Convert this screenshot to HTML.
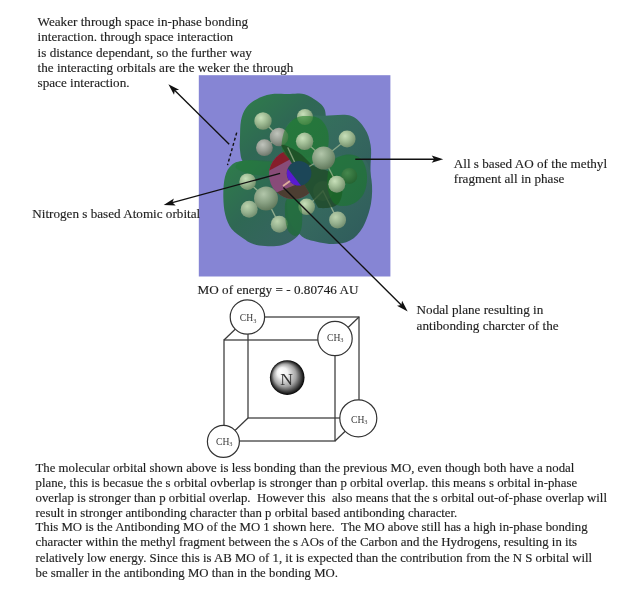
<!DOCTYPE html>
<html><head><meta charset="utf-8">
<style>
html,body{margin:0;padding:0;background:#fff;width:619px;height:599px;overflow:hidden}
svg{display:block}
.t{font-family:"Liberation Serif",serif;fill:#1e1e1e;stroke:#1e1e1e;stroke-width:0.15px}
#txt{filter:blur(0.3px)}
.a{font-size:13.15px}
.b{font-size:12.8px}
</style></head>
<body>
<svg width="619" height="599" viewBox="0 0 619 599">
<defs>
  <radialGradient id="hg" cx="0.38" cy="0.32" r="0.75">
    <stop offset="0" stop-color="#c8e0ba"/>
    <stop offset="0.45" stop-color="#a0bc94"/>
    <stop offset="1" stop-color="#6c8866"/>
  </radialGradient>
  <radialGradient id="hm" cx="0.38" cy="0.32" r="0.75">
    <stop offset="0" stop-color="#bcd4ae"/>
    <stop offset="0.5" stop-color="#97b290"/>
    <stop offset="1" stop-color="#6c886a"/>
  </radialGradient>
  <radialGradient id="hdg" cx="0.38" cy="0.32" r="0.75">
    <stop offset="0" stop-color="#4c8c50"/>
    <stop offset="1" stop-color="#235e2c"/>
  </radialGradient>
  <radialGradient id="cg" cx="0.4" cy="0.32" r="0.75">
    <stop offset="0" stop-color="#b2c6aa"/>
    <stop offset="0.5" stop-color="#88a082"/>
    <stop offset="1" stop-color="#5a7256"/>
  </radialGradient>
  <radialGradient id="cgg" cx="0.4" cy="0.32" r="0.75">
    <stop offset="0" stop-color="#c0c4bc"/>
    <stop offset="0.5" stop-color="#989e94"/>
    <stop offset="1" stop-color="#667064"/>
  </radialGradient>
  <linearGradient id="bl" x1="0" y1="0" x2="1" y2="1">
    <stop offset="0" stop-color="#2f7e4a"/>
    <stop offset="0.45" stop-color="#2f6854"/>
    <stop offset="1" stop-color="#396264"/>
  </linearGradient>
  <linearGradient id="bl2" x1="0" y1="0" x2="1" y2="1">
    <stop offset="0" stop-color="#34765a"/>
    <stop offset="0.5" stop-color="#35685e"/>
    <stop offset="1" stop-color="#2f5a5c"/>
  </linearGradient>
  <linearGradient id="redg" x1="0.2" y1="0" x2="0.6" y2="1">
    <stop offset="0" stop-color="#9a1a28"/>
    <stop offset="0.36" stop-color="#9a1a28"/>
    <stop offset="0.37" stop-color="#a84a80"/>
    <stop offset="0.78" stop-color="#9a4a80"/>
    <stop offset="0.79" stop-color="#4e3a2e"/>
    <stop offset="1" stop-color="#4e3a2e"/>
  </linearGradient>
  <clipPath id="rightdiag"><polygon points="227.9,56 400,56 400,291 367.7,291"/></clipPath>
  <clipPath id="leftdiagN"><polygon points="200,56 383,291 199,291 199,56"/></clipPath>
  <clipPath id="disc"><circle cx="293.5" cy="174.5" r="24.5"/></clipPath>
  <clipPath id="leftdiag"><polygon points="227.9,56 367.7,291 199,291 199,56"/></clipPath>
</defs>
<rect x="198.8" y="75.2" width="191.6" height="201.3" fill="#8685d4"/>
<path d="M240.0,150.0 C239.5,146.0 239.8,142.9 240.0,138.0 C240.2,133.1 240.0,125.5 241.0,120.5 C242.0,115.5 243.4,111.5 246.0,108.0 C248.6,104.5 252.5,101.5 256.7,99.2 C260.8,96.9 265.3,95.1 270.9,94.2 C276.4,93.3 284.4,94.0 290.0,94.0 C295.6,94.0 300.1,93.0 304.6,94.2 C309.1,95.4 313.8,98.7 317.0,101.0 C320.2,103.3 322.5,105.2 324.0,108.0 C325.5,110.8 325.6,113.5 326.0,118.0 C326.4,122.5 326.5,128.8 326.5,135.0 C326.5,141.2 327.9,149.5 326.0,155.0 C324.1,160.5 321.0,165.2 315.0,168.0 C309.0,170.8 300.0,171.7 290.0,172.0 C280.0,172.3 262.8,171.7 255.0,170.0 C247.2,168.3 245.5,165.3 243.0,162.0 C240.5,158.7 240.5,154.0 240.0,150.0 Z" fill="url(#bl)"/>
<path d="M284.0,140.0 C284.8,131.2 285.7,126.0 290.0,122.0 C294.3,118.0 304.2,117.0 310.0,116.0 C315.8,115.0 318.2,115.8 325.0,115.8 C331.8,115.8 344.2,113.7 350.8,115.8 C357.4,117.9 361.5,123.8 364.8,128.7 C368.1,133.6 369.6,139.2 370.6,145.0 C371.6,150.8 371.0,156.3 370.6,163.8 C370.2,171.3 371.4,183.1 368.0,190.0 C364.6,196.9 361.3,202.5 350.0,205.0 C338.7,207.5 310.8,210.0 300.0,205.0 C289.2,200.0 287.7,185.8 285.0,175.0 C282.3,164.2 283.2,148.8 284.0,140.0 Z" fill="url(#bl2)"/>
<path d="M225.0,176.7 C226.4,171.4 228.6,167.7 231.7,165.0 C234.8,162.3 237.8,161.4 243.4,160.8 C249.0,160.2 258.1,161.2 265.0,161.7 C271.9,162.2 279.2,160.9 285.0,164.0 C290.8,167.1 297.0,172.3 300.0,180.0 C303.0,187.7 302.7,201.9 303.0,210.0 C303.3,218.1 303.1,223.8 301.8,228.5 C300.5,233.2 298.3,235.7 295.0,238.5 C291.7,241.3 286.8,243.9 281.8,245.2 C276.8,246.4 270.0,246.3 265.0,246.0 C260.0,245.7 255.6,244.8 252.0,243.5 C248.4,242.2 246.8,240.9 243.4,238.5 C240.0,236.1 234.7,232.9 231.7,229.0 C228.7,225.1 226.7,220.4 225.3,215.0 C223.9,209.6 223.4,203.1 223.3,196.7 C223.2,190.3 223.6,182.0 225.0,176.7 Z" fill="url(#bl)"/>
<path d="M287.0,200.0 C287.0,191.3 286.2,177.2 290.0,170.0 C293.8,162.8 300.8,159.3 310.0,157.0 C319.2,154.7 335.8,155.5 345.0,156.0 C354.2,156.5 360.6,156.0 365.0,160.0 C369.4,164.0 370.5,172.8 371.5,180.0 C372.5,187.2 372.4,195.7 371.0,203.5 C369.6,211.3 366.5,220.7 363.0,226.9 C359.5,233.1 355.2,237.7 350.0,240.5 C344.8,243.3 338.9,244.1 332.0,244.0 C325.1,243.9 314.1,241.4 308.7,239.7 C303.3,238.0 302.5,236.8 299.4,233.9 C296.3,231.0 292.1,227.7 290.0,222.0 C287.9,216.3 287.0,208.7 287.0,200.0 Z" fill="url(#bl2)"/>
<g stroke="#b0c4a0" stroke-width="1.4" stroke-linecap="round" opacity="0.75">
  <line x1="263" y1="121" x2="279" y2="137"/>
  <line x1="264" y1="148" x2="279" y2="137"/>
  <line x1="248" y1="182" x2="266" y2="198"/>
  <line x1="249" y1="209" x2="266" y2="198"/>
  <line x1="279" y1="224" x2="266" y2="198"/>
  <line x1="323" y1="191" x2="307" y2="207"/>
  <line x1="323" y1="191" x2="337.6" y2="220"/>
</g>
<circle cx="279" cy="137" r="9.3" fill="url(#cgg)"/>
<circle cx="263" cy="121" r="8.7" fill="url(#hg)"/>
<circle cx="264.4" cy="147.7" r="8.4" fill="url(#cgg)"/>
<circle cx="305" cy="117" r="8" fill="url(#hg)"/>
<circle cx="266" cy="198.4" r="12" fill="url(#cg)"/>
<circle cx="247.6" cy="181.7" r="8.3" fill="url(#hg)"/>
<circle cx="249.2" cy="209.3" r="8.5" fill="url(#hm)"/>
<circle cx="279.3" cy="224.3" r="8.5" fill="url(#hm)"/>
<circle cx="337.6" cy="220.1" r="8.5" fill="url(#hm)"/>
<circle cx="323" cy="191" r="10" fill="#6a9a70" opacity="0.35"/>
<circle cx="306.7" cy="206.8" r="8.3" fill="url(#hg)"/>
<path d="M285.0,205.0 C285.5,199.7 287.8,197.2 290.0,196.0 C292.2,194.8 296.0,195.3 298.0,198.0 C300.0,200.7 301.5,206.7 302.0,212.0 C302.5,217.3 302.2,226.0 301.0,230.0 C299.8,234.0 297.3,236.3 295.0,236.0 C292.7,235.7 288.7,233.2 287.0,228.0 C285.3,222.8 284.5,210.3 285.0,205.0 Z" fill="#157026" opacity="0.5"/>
<path d="M236.0,168.0 C234.1,165.6 238.6,162.1 243.4,160.8 C248.2,159.6 258.1,160.1 265.0,160.5 C271.9,160.9 280.5,161.4 285.0,163.0 C289.5,164.6 292.8,168.0 292.0,170.0 C291.2,172.0 286.2,174.2 280.0,175.0 C273.8,175.8 262.3,176.2 255.0,175.0 C247.7,173.8 237.9,170.4 236.0,168.0 Z" fill="#1a7a2c" opacity="0.35"/>
<g clip-path="url(#leftdiag)" opacity="0.95"><g clip-path="url(#disc)">
<rect x="260" y="140" width="70" height="70" fill="#8e4a7c"/>
<polygon points="250,181 300,154 300,140 250,140" fill="#8c1a2a"/>
<polygon points="250,203 320,175 330,210 250,210" fill="#4e3c30"/>
</g></g>
<path d="M283.0,152.0 C280.3,146.7 282.2,137.5 284.0,132.0 C285.8,126.5 290.3,121.7 294.0,119.0 C297.7,116.3 301.7,116.0 306.0,116.0 C310.3,116.0 316.3,116.3 320.0,119.0 C323.7,121.7 326.8,126.8 328.0,132.0 C329.2,137.2 329.0,145.0 327.0,150.0 C325.0,155.0 320.5,159.7 316.0,162.0 C311.5,164.3 305.5,165.7 300.0,164.0 C294.5,162.3 285.7,157.3 283.0,152.0 Z" fill="#1a7c22" opacity="0.55"/>
<path d="M281.0,146.0 C281.3,142.0 292.5,148.7 298.0,152.0 C303.5,155.3 308.7,162.7 314.0,166.0 C319.3,169.3 325.3,168.7 330.0,172.0 C334.7,175.3 340.7,180.7 342.0,186.0 C343.3,191.3 341.7,200.3 338.0,204.0 C334.3,207.7 325.5,208.5 320.0,208.0 C314.5,207.5 309.0,206.3 305.0,201.0 C301.0,195.7 300.0,185.2 296.0,176.0 C292.0,166.8 280.7,150.0 281.0,146.0 Z" fill="#1c4420" opacity="0.7" clip-path="url(#rightdiag)"/>
<path d="M328.0,172.0 C328.8,167.0 329.6,162.9 333.0,160.0 C336.4,157.1 343.6,154.5 348.4,154.5 C353.2,154.5 358.9,156.2 362.0,160.0 C365.1,163.8 366.8,171.2 367.0,177.0 C367.2,182.8 365.8,190.3 363.0,195.0 C360.2,199.7 354.7,203.5 350.0,205.0 C345.3,206.5 338.7,206.5 335.0,204.0 C331.3,201.5 329.2,195.3 328.0,190.0 C326.8,184.7 327.2,177.0 328.0,172.0 Z" fill="#167a22" opacity="0.5"/>
<g stroke="#a8bc98" stroke-width="1.4" stroke-linecap="round" opacity="0.7">
  <line x1="288" y1="148" x2="296" y2="165"/>
  <line x1="304.6" y1="141" x2="323.5" y2="158"/>
  <line x1="347" y1="139" x2="323.5" y2="158"/>
  <line x1="323.5" y1="158" x2="337" y2="184"/>
  <line x1="300" y1="172" x2="323.5" y2="158"/>
</g>
<circle cx="304.6" cy="141.3" r="8.7" fill="url(#hg)"/>
<circle cx="347.1" cy="139.1" r="8.5" fill="url(#hg)"/>
<circle cx="323.6" cy="158" r="11.5" fill="url(#cg)"/>
<circle cx="349.3" cy="175.9" r="8" fill="url(#hdg)" opacity="0.85"/>
<circle cx="336.8" cy="184.2" r="8.5" fill="url(#hg)"/>
<circle cx="299.1" cy="173.3" r="12.3" fill="#1c4658"/>
<circle cx="299.1" cy="173.3" r="12.3" fill="#5a1ad0" clip-path="url(#leftdiagN)"/>
<line x1="283" y1="186" x2="290" y2="181" stroke="#e8b8a0" stroke-width="1.8" opacity="0.9"/>
<g stroke="#111" stroke-width="1.35" fill="none">
<line x1="229.2" y1="144.3" x2="174.1" y2="89.8"/>
<line x1="355.3" y1="159.2" x2="435.2" y2="159.2"/>
<line x1="280.1" y1="173.4" x2="171.4" y2="202.8"/>
<line x1="283.4" y1="187.6" x2="402.0" y2="305.8"/>
<path d="M236.7 132.6 L227.5 165.1" stroke-dasharray="3 2.4" stroke-width="1.4"/>
</g>
<g fill="#111">
<path d="M168.4 84.2 L179.1 89.7 L174.8 90.5 L174.0 94.8 Z"/>
<path d="M443.2 159.2 L431.7 162.8 L434.2 159.2 L431.7 155.6 Z"/>
<path d="M163.7 204.9 L173.9 198.4 L172.4 202.5 L175.7 205.4 Z"/>
<path d="M407.7 311.4 L397.0 305.8 L401.3 305.0 L402.1 300.7 Z"/>
</g>

<defs>
  <radialGradient id="ng" cx="0.5" cy="0.5" r="0.5" fx="0.3" fy="0.3">
    <stop offset="0" stop-color="#ffffff"/>
    <stop offset="0.3" stop-color="#f2f2f2"/>
    <stop offset="0.65" stop-color="#a4a4a4"/>
    <stop offset="0.9" stop-color="#303030"/>
    <stop offset="1" stop-color="#000"/>
  </radialGradient>
</defs>
<g stroke="#3a3a3a" stroke-width="1.25" fill="none">
  <rect x="248" y="317" width="111" height="101"/>
  <rect x="224" y="340" width="111" height="101"/>
  <line x1="224" y1="340" x2="248" y2="317"/>
  <line x1="335" y1="340" x2="359" y2="317"/>
  <line x1="335" y1="441" x2="359" y2="418"/>
  <line x1="224" y1="441" x2="248" y2="418"/>
</g>
<g stroke="#333" stroke-width="1.2" fill="#fff">
  <circle cx="247.4" cy="317" r="17.2"/>
  <circle cx="335" cy="338.5" r="17.2"/>
  <circle cx="358.3" cy="418.3" r="18.5"/>
  <circle cx="223.4" cy="441.4" r="16"/>
</g>
<circle cx="287.2" cy="377.6" r="17.3" fill="url(#ng)"/>
<text x="286.7" y="385.4" font-family="Liberation Serif" font-size="17.6" fill="#333" text-anchor="middle" style="filter:blur(0.25px)">N</text>
<g font-family="Liberation Serif" fill="#3a3a3a" font-size="9.6" style="filter:blur(0.25px)">
<text x="239.8" y="321.4">CH<tspan font-size="6.3" dy="1.3">3</tspan></text>
<text x="327" y="341">CH<tspan font-size="6.3" dy="1.3">3</tspan></text>
<text x="351" y="423">CH<tspan font-size="6.3" dy="1.3">3</tspan></text>
<text x="216" y="444.6">CH<tspan font-size="6.3" dy="1.3">3</tspan></text>
</g>

<g id="txt">
<text class="t a" x="37.6" y="25.8" xml:space="preserve">Weaker through space in-phase bonding</text>
<text class="t a" x="37.6" y="41.3" xml:space="preserve">interaction. through space interaction</text>
<text class="t a" x="37.6" y="56.8" xml:space="preserve">is distance dependant, so the further way</text>
<text class="t a" x="37.6" y="71.8" xml:space="preserve">the interacting orbitals are the weker the through</text>
<text class="t a" x="37.6" y="87.3" xml:space="preserve">space interaction.</text>
<text class="t a" x="453.8" y="168.3" xml:space="preserve">All s based AO of the methyl</text>
<text class="t a" x="453.8" y="183.2" xml:space="preserve">fragment all in phase</text>
<text class="t a" x="32.3" y="217.5" xml:space="preserve">Nitrogen s based Atomic orbital</text>
<text class="t a" x="197.5" y="294.3" textLength="161.0" lengthAdjust="spacing" xml:space="preserve">MO of energy = - 0.80746 AU</text>
<text class="t a" x="416.6" y="314.0" xml:space="preserve">Nodal plane resulting in</text>
<text class="t a" x="416.6" y="330.0" xml:space="preserve">antibonding charcter of the</text>
<text class="t b" x="35.5" y="472.0" xml:space="preserve">The molecular orbital shown above is less bonding than the previous MO, even though both have a nodal</text>
<text class="t b" x="35.5" y="486.5" xml:space="preserve">plane, this is becasue the s orbital ovberlap is stronger than p orbital overlap. this means s orbital in-phase</text>
<text class="t b" x="35.5" y="501.5" xml:space="preserve">overlap is stronger than p orbitial overlap.  However this  also means that the s orbital out-of-phase overlap will</text>
<text class="t b" x="35.5" y="516.5" xml:space="preserve">result in stronger antibonding character than p orbital based antibonding character.</text>
<text class="t b" x="35.5" y="531.4" xml:space="preserve">This MO is the Antibonding MO of the MO 1 shown here.  The MO above still has a high in-phase bonding</text>
<text class="t b" x="35.5" y="546.1" xml:space="preserve">character within the methyl fragment between the s AOs of the Carbon and the Hydrogens, resulting in its</text>
<text class="t b" x="35.5" y="561.5" xml:space="preserve">relatively low energy. Since this is AB MO of 1, it is expected than the contribution from the N S orbital will</text>
<text class="t b" x="35.5" y="576.6" xml:space="preserve">be smaller in the antibonding MO than in the bonding MO.</text>
</g>
</svg>
</body></html>
